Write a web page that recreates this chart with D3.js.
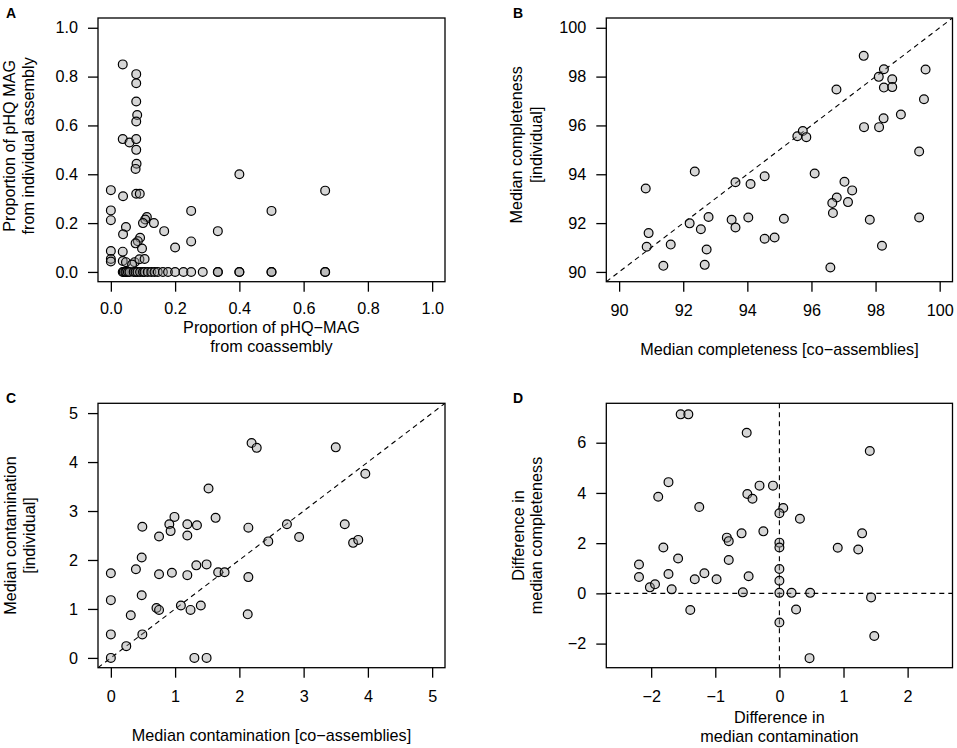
<!DOCTYPE html>
<html>
<head>
<meta charset="utf-8">
<script src="https://cdn.jsdelivr.net/npm/d3@7"></script>
<style>
  body { margin: 0; background: #fff; }
  svg text { font-family: "Liberation Sans", Arial, Helvetica, sans-serif; fill: #000; }
</style>
</head>
<body>
<svg width="957" height="748"></svg>
<script>
// ---- data ----
// A: proportion of pHQ-MAG from coassembly (x) vs from individual assembly (y)
var aX = [0.037,0.079,0.079,0.079,0.082,0.079,0.037,0.058,0.079,0.079,0.080,0.077,
          0.000,0.038,0.079,0.090,0.400,0.667,0.500,
          0.000,0.000,0.047,0.038,0.112,0.107,0.100,0.134,0.166,0.250,0.333,0.250,0.200,
          0.091,0.084,0.077,0.097,0.000,0.037,0.000,0.000,0.037,0.047,0.074,0.089,0.105,0.066,
          0.037,0.040,0.045,0.048,0.053,0.058,0.071,0.077,0.083,0.091,0.100,0.105,0.115,0.126,
          0.136,0.146,0.162,0.178,0.200,0.226,0.250,0.286,0.333,0.333,0.400,0.400,0.500,0.500,0.667,0.667];
var aY = [0.850,0.810,0.773,0.698,0.643,0.616,0.544,0.530,0.544,0.500,0.443,0.422,
          0.335,0.310,0.320,0.320,0.400,0.333,0.250,
          0.252,0.212,0.184,0.154,0.225,0.215,0.200,0.200,0.167,0.250,0.167,0.125,0.100,
          0.140,0.126,0.117,0.096,0.086,0.083,0.053,0.043,0.045,0.040,0.040,0.052,0.053,0.030,
          0,0,0,0,0,0,0,0,0,0,0,0,0,0,
          0,0,0,0,0,0,0,0,0,0,0,0,0,0,0,0];

// B: median completeness, co-assemblies (x) vs individual (y)
var bX = [90.83,90.92,90.86,91.61,91.38,92.36,92.20,92.79,92.55,92.73,92.67,
          93.63,94.10,94.54,93.51,93.63,94.03,94.54,94.85,95.14,95.56,95.73,95.84,96.10,
          97.03,97.27,96.79,96.65,97.14,96.67,96.59,97.82,98.20,99.36,99.36,96.78,97.63,
          97.64,98.11,98.25,98.79,99.51,99.56,98.10,98.26,98.52,98.26,98.52];
var bY = [93.42,91.59,91.03,91.12,90.25,94.11,91.99,92.25,91.75,90.92,90.29,
          93.67,93.60,93.92,92.14,91.82,92.23,91.36,91.41,92.18,95.56,95.77,95.52,94.03,
          93.69,93.34,93.05,92.82,92.86,92.41,90.18,92.14,91.07,92.23,94.93,97.47,98.85,
          95.93,95.93,96.29,96.45,97.07,98.29,97.99,98.30,97.89,97.55,97.57];

// C: median contamination, co-assemblies (x) vs individual (y)
var cX = [0,0,0,0,0.24,0.31,0.49,0.48,0.48,0.49,0.39,0.71,0.75,0.75,0.75,0.95,0.91,0.93,0.99,
          1.09,1.24,1.19,1.19,1.19,1.33,1.34,1.30,1.49,1.40,1.49,1.52,1.63,1.67,1.77,
          2.19,2.27,3.50,3.96,2.14,2.45,2.74,2.93,3.64,3.77,3.85,2.14,2.13];
var cY = [0,0.48,1.18,1.73,0.24,0.87,0.48,1.28,2.05,2.68,1.81,1.02,0.98,1.71,2.48,1.74,2.73,2.59,2.88,
          1.07,0.98,2.73,2.50,1.69,1.89,2.71,0,0,1.07,1.91,3.46,2.86,1.75,1.75,
          4.39,4.29,4.30,3.76,2.66,2.38,2.73,2.47,2.73,2.35,2.41,1.65,0.89];

// D: difference in median contamination (x) vs difference in median completeness (y)
var dX = [-1.54,-1.42,-1.73,-1.89,-1.25,-1.81,-1.58,-2.19,-2.19,-2.02,-1.94,-1.73,-1.68,-1.32,-1.17,-1.39,-0.98,
          -0.51,1.41,-0.31,-0.10,-0.50,-0.42,0.06,0,0.32,-0.59,-0.25,-0.82,-0.79,0,0,0.91,1.23,1.29,
          -0.79,-0.48,0,0,-0.57,0,0.19,0.48,1.43,0.26,0,1.48,0.47];
var dY = [7.13,7.13,4.43,3.85,3.44,1.83,1.39,1.15,0.65,0.24,0.36,0.77,0.16,0.56,0.80,-0.66,0.56,
          6.40,5.67,4.29,4.29,3.96,3.77,3.40,3.19,2.97,2.39,2.47,2.22,2.08,2.02,1.83,1.82,1.75,2.39,
          1.33,0.68,0.97,0.50,0.04,0.02,0.02,0.02,-0.16,-0.64,-1.16,-1.70,-2.58];

// tick values
var aTicks  = [0, 0.2, 0.4, 0.6, 0.8, 1.0];
var bTicks  = [90, 92, 94, 96, 98, 100];
var cTicks  = [0, 1, 2, 3, 4, 5];
var dXTicks = [-2, -1, 0, 1, 2];
var dYTicks = [-2, 0, 2, 4, 6];

// ---- drawing ----
var svg = d3.select("svg");
var FS = 16.2;

var fmt1 = function(v){ return d3.format(".1f")(v); };
var fmtI = function(v){ return (v < 0 ? "\u2212" : "") + Math.abs(v); };

panel = function(o)
{
  var x = d3.scaleLinear().domain(o.xd).range([o.left, o.right]);
  var y = d3.scaleLinear().domain(o.yd).range([o.bottom, o.top]);
  var g = svg.append("g");
  var clipId = "clip" + o.name;

  g.append("clipPath").attr("id", clipId)
    .append("rect")
      .attr("x", o.left).attr("y", o.top)
      .attr("width", o.right - o.left).attr("height", o.bottom - o.top);

  // reference lines
  if (o.diag) {
    g.append("line")
      .attr("clip-path", "url(#" + clipId + ")")
      .attr("x1", x(o.xd[0])).attr("y1", y(o.xd[0]))
      .attr("x2", x(o.xd[1])).attr("y2", y(o.xd[1]))
      .style("stroke", "#000").style("stroke-width", 1.1)
      .style("stroke-dasharray", "5,4");
  }
  if (o.cross) {
    g.append("line")
      .attr("x1", o.left).attr("x2", o.right).attr("y1", y(0)).attr("y2", y(0))
      .style("stroke", "#000").style("stroke-width", 1.1).style("stroke-dasharray", "5,4");
    g.append("line")
      .attr("y1", o.top).attr("y2", o.bottom).attr("x1", x(0)).attr("x2", x(0))
      .style("stroke", "#000").style("stroke-width", 1.1).style("stroke-dasharray", "5,4");
  }

  // points
  g.selectAll("circle.pt").data(d3.range(o.xs.length)).enter()
    .append("circle")
      .attr("class", "pt")
      .attr("cx", function(i){ return x(o.xs[i]); })
      .attr("cy", function(i){ return y(o.ys[i]); })
      .attr("r", 4.4)
      .style("fill", "#999").style("fill-opacity", 0.4)
      .style("stroke", "#000").style("stroke-width", 1.2);

  // box
  g.append("rect")
    .attr("x", o.left).attr("y", o.top)
    .attr("width", o.right - o.left).attr("height", o.bottom - o.top)
    .style("fill", "none").style("stroke", "#000").style("stroke-width", 1.3);

  // x axis (ticks only, like base R)
  var xa = d3.axisBottom(x).tickValues(o.xt).tickSize(10).tickPadding(14).tickFormat(o.xf);
  var gx = g.append("g").attr("transform", "translate(0," + o.bottom + ")").call(xa);
  gx.select(".domain").remove();
  gx.selectAll("line").style("stroke", "#000").style("stroke-width", 1.3);
  gx.selectAll("text").style("font-size", FS + "px").attr("y", o.xtY || 23).attr("dy", "0.71em");

  var ya = d3.axisLeft(y).tickValues(o.yt).tickSize(10).tickPadding(10).tickFormat(o.yf);
  var gy = g.append("g").attr("transform", "translate(" + o.left + ",0)").call(ya);
  gy.select(".domain").remove();
  gy.selectAll("line").style("stroke", "#000").style("stroke-width", 1.3);
  gy.selectAll("text").style("font-size", FS + "px");

  // axis titles
  var cx = (o.left + o.right) / 2, cy = (o.top + o.bottom) / 2 + (o.ylabShift || 0);
  o.xlab.forEach(function(t, k){
    g.append("text")
      .attr("x", cx).attr("y", o.xlabY[k])
      .attr("text-anchor", "middle")
      .style("font-size", FS + "px")
      .text(t);
  });
  o.ylab.forEach(function(t, k){
    g.append("text")
      .attr("transform", "translate(" + o.ylabX[k] + "," + cy + ") rotate(-90)")
      .attr("text-anchor", "middle")
      .style("font-size", FS + "px")
      .text(t);
  });

  // panel letter
  g.append("text")
    .attr("x", o.tagX).attr("y", o.top)
    .style("font-size", "14px").style("font-weight", "bold")
    .text(o.name);
}

panel({ name: "A", left: 98, right: 445, top: 18, bottom: 281.7,
  xd: [-0.04, 1.04], yd: [-0.04, 1.04], xs: aX, ys: aY,
  xt: aTicks, yt: aTicks, xf: fmt1, yf: fmt1, xtY: 21,
  xlab: ["Proportion of pHQ\u2212MAG", "from coassembly"], xlabY: [333, 351.5],
  ylab: ["Proportion of pHQ MAG", "from individual assembly"], ylabX: [15, 34],
  ylabShift: -4, tagX: 6 });

panel({ name: "B", left: 606.3, right: 952.5, top: 18, bottom: 281.7,
  xd: [89.6, 100.4], yd: [89.6, 100.4], xs: bX, ys: bY, diag: true,
  xt: bTicks, yt: bTicks, xf: fmtI, yf: fmtI,
  xlab: ["Median completeness [co\u2212assemblies]"], xlabY: [355],
  ylab: ["Median completeness", "[individual]"], ylabX: [522, 542],
  ylabShift: -5, tagX: 513 });

panel({ name: "C", left: 98, right: 445, top: 403.3, bottom: 667.7,
  xd: [-0.2, 5.2], yd: [-0.2, 5.2], xs: cX, ys: cY, diag: true,
  xt: cTicks, yt: cTicks, xf: fmtI, yf: fmtI,
  xlab: ["Median contamination [co\u2212assemblies]"], xlabY: [741],
  ylab: ["Median contamination", "[individual]"], ylabX: [16, 35],
  tagX: 6 });

panel({ name: "D", left: 606.3, right: 952.5, top: 403.3, bottom: 667.7,
  xd: [-2.7, 2.7], yd: [-2.96, 7.57], xs: dX, ys: dY, cross: true,
  xt: dXTicks, yt: dYTicks, xf: fmtI, yf: fmtI,
  xlab: ["Difference in", "median contamination"], xlabY: [723, 742],
  ylab: ["Difference in", "median completeness"], ylabX: [524, 542],
  tagX: 513 });
</script>
</body>
</html>
